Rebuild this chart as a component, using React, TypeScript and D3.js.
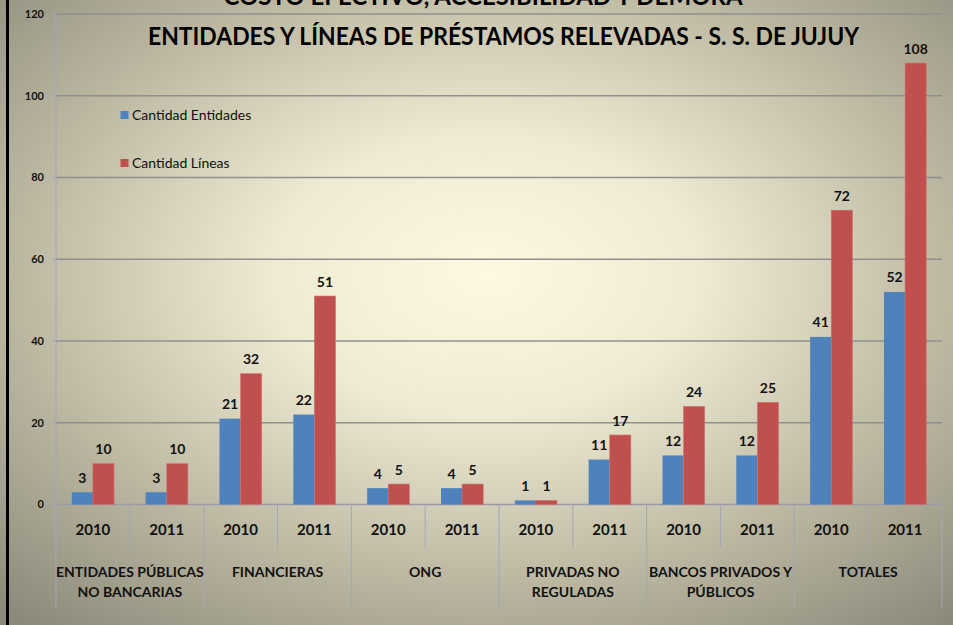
import React from "react";
import * as d3 from "d3";

const groups = [
  ["ENTIDADES PÚBLICAS", "NO BANCARIAS"],
  ["FINANCIERAS"],
  ["ONG"],
  ["PRIVADAS NO", "REGULADAS"],
  ["BANCOS PRIVADOS Y", "PÚBLICOS"],
  ["TOTALES"],
];
const years = ["2010", "2011"];
const entidades = [3, 3, 21, 22, 4, 4, 1, 11, 12, 12, 41, 52];
const lineas = [10, 10, 32, 51, 5, 5, 1, 17, 24, 25, 72, 108];
const yTicks = [0, 20, 40, 60, 80, 100, 120];
const seriesNames = ["Cantidad Entidades", "Cantidad Líneas"];
const colors = ["#4F81BD", "#C0504D"];
const title = "ENTIDADES Y LÍNEAS DE PRÉSTAMOS RELEVADAS - S. S. DE JUJUY";
const supTitle = "COSTO EFECTIVO, ACCESIBILIDAD Y DEMORA";

const W = 953;
const H = 625;
const left = 56;
const right = 942;
const font = "Lato, 'Open Sans', sans-serif";

export default function App() {
  const cats = d3.range(entidades.length);
  const x = d3.scaleBand<number>().domain(cats).range([left, right]).padding(0);
  const y = d3.scaleLinear().domain([0, 120]).range([504.5, 14]);
  const bw = x.bandwidth() / 3.5;
  const series = [entidades, lineas];
  const groupW = x.bandwidth() * 2;

  return (
    <svg
      width={W}
      height={H}
      style={{ position: "absolute", left: 0, top: 0, display: "block" }}
      fontFamily={font}
    >
      <defs>
        <radialGradient id="bg" cx="0.51" cy="0.44" r="0.74">
          <stop offset="0" stopColor="#fdf8e0" />
          <stop offset="0.3" stopColor="#efebd3" />
          <stop offset="0.65" stopColor="#bdb9a3" />
          <stop offset="1" stopColor="#8c897a" />
        </radialGradient>
      </defs>
      <rect x={0} y={0} width={W} height={H} fill="url(#bg)" />
      <rect x={6} y={0} width={3} height={H} fill="#000" />

      {/* gridlines */}
      {yTicks.slice(1).map((t) => (
        <line key={t} x1={left} x2={right} y1={y(t)} y2={y(t)} stroke="#8f8f8f" strokeWidth={1.3} />
      ))}

      {/* y axis */}
      <line x1={left} x2={left} y1={y(120)} y2={608} stroke="#a6a6b6" strokeWidth={1} />
      {yTicks.map((t) => (
        <g key={t}>
          <line x1={left - 4} x2={left} y1={y(t)} y2={y(t)} stroke="#a6a6b6" />
          <text x={44} y={y(t)} dy="0.35em" textAnchor="end" fontSize={11} fontWeight="bold" fill="#111">
            {t}
          </text>
        </g>
      ))}

      {/* x axis */}
      <line x1={left} x2={right} y1={y(0)} y2={y(0)} stroke="#9a9aa8" strokeWidth={1.3} />
      {cats.map((i) => (
        <line
          key={"s" + i}
          x1={(x(i) as number) + x.bandwidth()}
          x2={(x(i) as number) + x.bandwidth()}
          y1={y(0)}
          y2={i % 2 === 1 ? 608 : 547}
          stroke="#a6a6b6"
          strokeWidth={1}
        />
      ))}

      {/* bars */}
      {series.map((vals, s) =>
        vals.map((v, i) => {
          const cx = (x(i) as number) + x.bandwidth() / 2;
          const bx = cx - bw + s * bw;
          return (
            <g key={s + "-" + i}>
              <rect
                x={bx}
                y={y(v)}
                width={bw}
                height={y(0) - y(v)}
                fill={colors[s]}
                stroke={s === 1 ? "#d0706c" : "none"}
                strokeWidth={0.6}
              />
              <text
                x={bx + bw / 2}
                y={y(v) - 9.5}
                textAnchor="middle"
                fontSize={14}
                fontWeight="bold"
                fill="#111"
              >
                {v}
              </text>
            </g>
          );
        })
      )}

      {/* year labels */}
      {cats.map((i) => (
        <text
          key={"y" + i}
          x={(x(i) as number) + x.bandwidth() / 2}
          y={530}
          dy="0.35em"
          textAnchor="middle"
          fontSize={15}
          fontWeight="bold"
          fill="#111"
        >
          {years[i % 2]}
        </text>
      ))}

      {/* group labels */}
      {groups.map((lines, g) => (
        <text
          key={"g" + g}
          x={left + g * groupW + groupW / 2}
          textAnchor="middle"
          fontSize={14}
          fontWeight="bold"
          fill="#111"
        >
          {lines.map((l, k) => (
            <tspan key={k} x={left + g * groupW + groupW / 2} y={572 + k * 20} dy="0.35em">
              {l}
            </tspan>
          ))}
        </text>
      ))}

      {/* legend */}
      {seriesNames.map((n, s) => (
        <g key={n}>
          <rect x={120.5} y={111 + s * 48} width={8} height={8} fill={colors[s]} />
          <text x={132} y={115 + s * 48} dy="0.35em" fontSize={14} fill="#111">
            {n}
          </text>
        </g>
      ))}

      {/* titles */}
      <text x={483} y={4.5} textAnchor="middle" fontSize={24} fontWeight="bold" fill="#000">
        {supTitle}
      </text>
      <text
        x={503.5}
        y={45}
        textAnchor="middle"
        fontSize={24}
        fontWeight="bold"
        fill="#000"
        textLength={711}
        lengthAdjust="spacingAndGlyphs"
      >
        {title}
      </text>
    </svg>
  );
}
